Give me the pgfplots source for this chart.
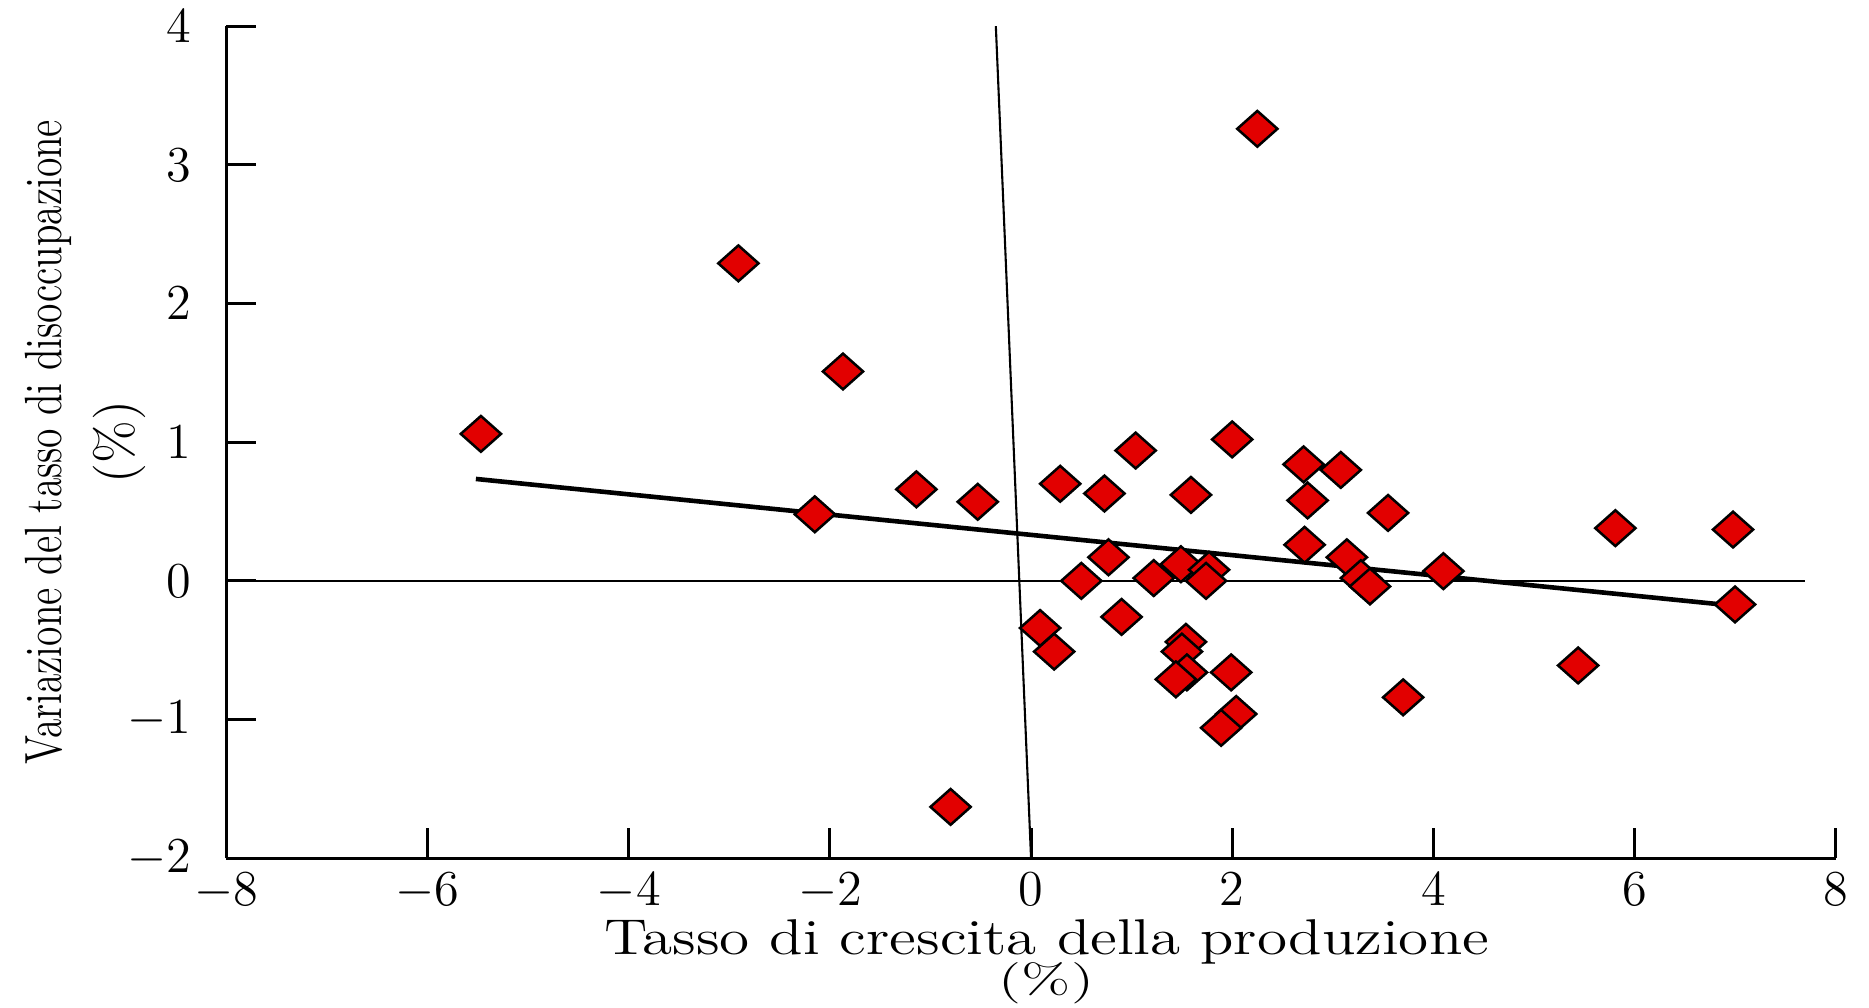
\documentclass[border=0pt]{standalone}
\usepackage{pgfplots}
\pgfplotsset{compat=1.18}
\usepackage{pgfplotstable}
\usepackage{graphicx}
\definecolor{pointred}{RGB}{226,0,0}
\pgfplotstableread{
x y
-5.47 1.06
-2.91 2.29
-1.87 1.51
-1.14 0.66
-0.53 0.57
-2.15 0.48
-0.80 -1.63
2.25 3.26
0.29 0.70
0.73 0.63
1.04 0.94
1.59 0.62
2.00 1.02
2.71 0.84
3.08 0.80
2.75 0.58
3.55 0.49
5.81 0.38
6.98 0.37
2.72 0.26
3.14 0.17
4.10 0.07
3.28 0.02
3.37 -0.04
7.00 -0.17
0.77 0.17
0.50 0.00
1.22 0.02
1.49 0.12
1.77 0.08
1.74 0.00
0.09 -0.34
0.23 -0.51
0.90 -0.26
1.54 -0.44
1.50 -0.51
1.55 -0.66
1.44 -0.71
1.99 -0.66
2.04 -0.96
1.89 -1.06
3.70 -0.84
5.44 -0.61
}\datatable
\begin{document}
\begin{tikzpicture}
\begin{axis}[
  scale only axis, width=135mm, height=69.8mm,
  xmin=-8, xmax=8, ymin=-2, ymax=4,
  axis x line*=bottom, axis y line*=left,
  axis line style={line width=0.7pt},
  xtick={-8,-6,...,8}, ytick={-2,-1,...,4},
  tick align=inside, major tick length=2.5mm,
  tick style={line width=0.7pt, black},
  xticklabel style={font=\fontsize{12.5}{14}\selectfont},
  yticklabel style={font=\fontsize{11.5}{14}\selectfont, xshift=-1.7mm},
  xlabel={\scalebox{1.22}[1]{Tasso di crescita della produzione}\\[-4.5pt]\scalebox{1.2}[0.82]{(\%)}},
  xlabel style={align=center, font=\fontsize{12}{14}\selectfont, xshift=1.3mm, yshift=1.6mm},
  ylabel={\scalebox{0.755}[1]{Variazione del tasso di disoccupazione}\\(\%)},
  ylabel style={align=center, font=\fontsize{12.5}{17}\selectfont, yshift=-3.9mm},
  clip=false,
]
\coordinate (SW) at (rel axis cs:0,0);
\coordinate (NE) at (rel axis cs:1,1);
\addplot[black, line width=0.5pt] coordinates {(-8,0) (7.7,0)};
\addplot[black, line width=0.5pt] coordinates {(-0.35,4) (0,-2)};
\addplot[only marks, mark=diamond*, mark size=1.5mm,
  mark options={xscale=1.5, fill=pointred, draw=black, line width=0.6pt}]
  table[x=x, y=y] {\datatable};
\addplot[black, line width=1.1pt] coordinates {(-5.52,0.735) (7.0,-0.18)};
\end{axis}
\pgfresetboundingbox
\path ([shift={(-19mm,-12.5mm)}]SW) rectangle ([shift={(2.8mm,2.2mm)}]NE);
\end{tikzpicture}
\end{document}
